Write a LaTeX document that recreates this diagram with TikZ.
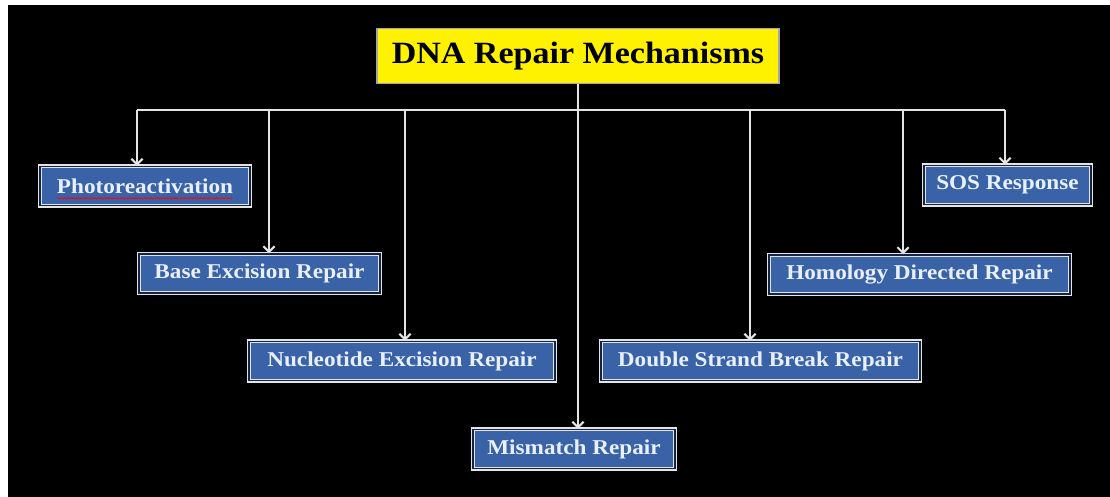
\documentclass[tikz,border=0pt]{standalone}
\usepackage{fontspec}
\setmainfont{Liberation Serif}[FakeStretch=1.1]
\usepackage{tikz}
\usetikzlibrary{arrows.meta,positioning,decorations.pathmorphing}
\definecolor{repairblue}{RGB}{58,98,166}
\definecolor{gapblue}{RGB}{20,35,70}
\definecolor{wirewhite}{RGB}{228,228,228}
\definecolor{labelwhite}{RGB}{232,240,255}

\begin{document}
\begin{tikzpicture}[x=0.025cm,y=-0.025cm,
	repair/.style={draw=wirewhite,double=gapblue,double distance=0.9pt,line width=0.9pt,fill=repairblue,
	  text=labelwhite,font=\bfseries\fontsize{15}{18}\selectfont,minimum height=0.98cm,inner sep=0pt},
	headbox/.style={draw=gray!70,line width=1.2pt,fill=yellow,text=black,
	  font=\bfseries\fontsize{22}{26}\selectfont,minimum width=10.05cm,minimum height=1.38cm,inner sep=0pt},
	wire/.style={draw=wirewhite,line width=1.4pt},
	drop/.style={wire,-{Straight Barb[length=4pt,width=8pt]}}]

	 \fill[white] (0,0) rectangle (1110,497);
	 \fill[black] (8,5) rectangle (1110,497);

	 \node at (578,56) [headbox] (title) {DNA Repair Mechanisms};

	 \node at (145,186) [repair,minimum width=5.25cm] (photo) {Photoreactivation};
	 \node at (259.5,273.5) [repair,minimum width=6.02cm] (base) {Base Excision Repair};
	 \node at (402,361) [repair,minimum width=7.65cm] (nucl) {Nucleotide Excision Repair};
	 \node at (574,449) [repair,minimum width=5.05cm] (mism) {Mismatch Repair};
	 \node at (760.5,361) [repair,minimum width=7.97cm] (dsb) {Double Strand Break Repair};
	 \node at (919.5,274.5) [repair,minimum width=7.52cm] (hdr) {Homology Directed Repair};
	 \node at (1007.5,185) [repair,minimum width=4.17cm] (sos) {SOS Response};

	 \draw[red,line width=0.5pt,decorate,decoration={snake,amplitude=0.5pt,segment length=2.2pt}]
	   ([shift={(18,5)}]photo.base west) -- ([shift={(-18,5)}]photo.base east);

	 \coordinate (b1) at (137,110);
	 \coordinate (b2) at (269,110);
	 \coordinate (b3) at (405,110);
	 \coordinate (b4) at (750,110);
	 \coordinate (b5) at (903,110);
	 \coordinate (b6) at (1005,110);

	 \draw[wire] (b1) -- (b6);
	 \draw[drop] (title.south) -- (title.south |- mism.north);
	 \draw[drop] (b1) -- (b1 |- photo.north);
	 \draw[drop] (b2) -- (b2 |- base.north);
	 \draw[drop] (b3) -- (b3 |- nucl.north);
	 \draw[drop] (b4) -- (b4 |- dsb.north);
	 \draw[drop] (b5) -- (b5 |- hdr.north);
	 \draw[drop] (b6) -- (b6 |- sos.north);

\end{tikzpicture}
\end{document}
